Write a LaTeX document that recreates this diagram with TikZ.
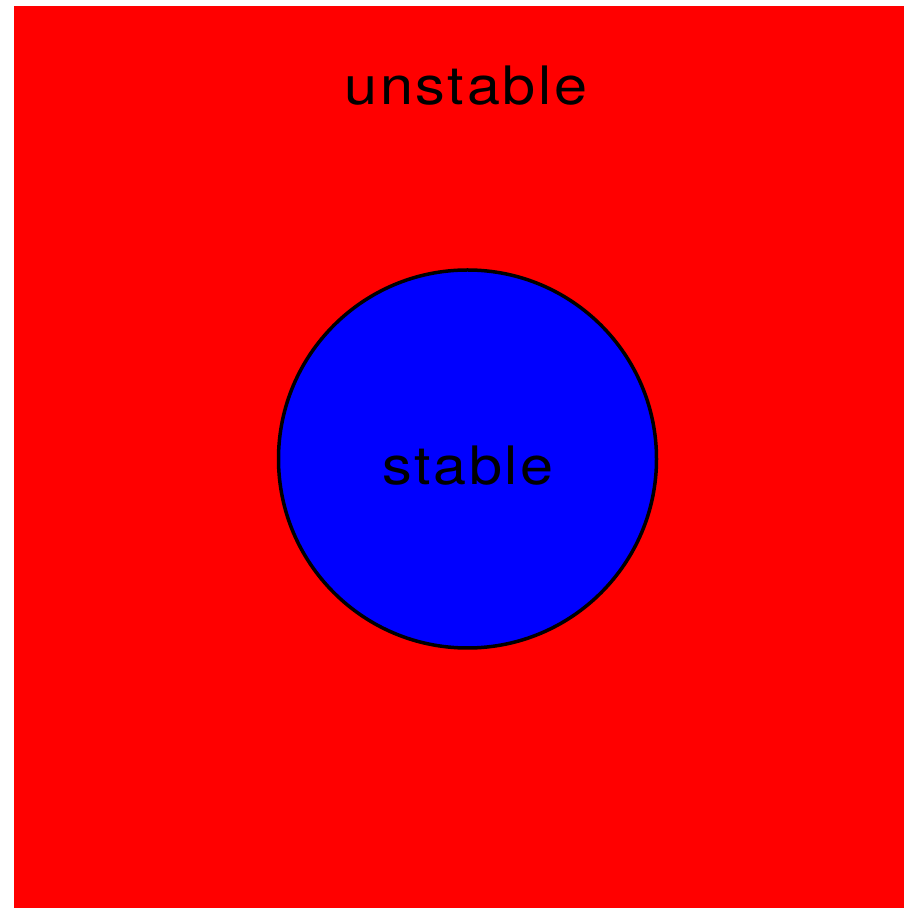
\documentclass[tikz,border=0pt]{standalone}
\usepackage{fontspec}
\setmainfont{TeX Gyre Heros}[LetterSpace=5,FakeStretch=1.12]
\begin{document}
\begin{tikzpicture}[x=1pt,y=1pt,
  lbl/.style={anchor=base,inner sep=0pt,font=\fontsize{53}{60}\selectfont,text=black}]
\useasboundingbox (0,0) rectangle (904,908);
\fill[red] (14,0) rectangle (904,902);
\node[circle,draw=black,line width=3.5pt,fill=blue,minimum size=378pt,inner sep=0pt] (c) at (467.5,449) {};
\node[lbl] (u) at (466,803) {unstable};
\node[lbl] (s) at (468,423) {stable};
\end{tikzpicture}
\end{document}
